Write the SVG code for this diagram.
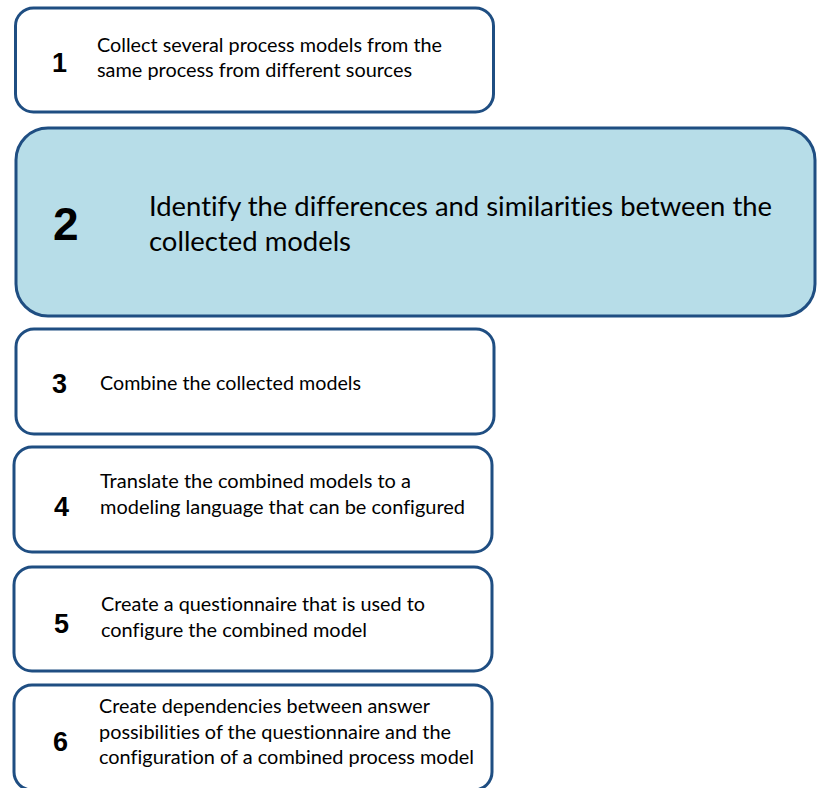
<svg xmlns="http://www.w3.org/2000/svg" width="817" height="788" viewBox="0 0 817 788">
  <style>
    .box { fill: #ffffff; stroke: #1f4e82; stroke-width: 3; }
    .hl { fill: #b7dde8; stroke: #1f4e82; stroke-width: 3; }
    .num { font-family: "Liberation Sans", Arial, sans-serif; font-weight: bold; font-size: 27px; fill: #000; }
    .big { font-size: 46px; }
    .txt, .txt2 { font-family: Lato, "Liberation Sans", sans-serif; fill: #000; font-variant-ligatures: none; }
    .txt { font-size: 19.5px; }
    .txt2 { font-size: 27px; }
  </style>

  <g id="step1">
    <rect class="box" x="15.5" y="8" width="478" height="104" rx="18"/>
    <text class="num" x="52" y="72">1</text>
    <text class="txt" x="97" y="52" textLength="345" lengthAdjust="spacingAndGlyphs">Collect several process models from the</text>
    <text class="txt" x="97" y="77" textLength="315" lengthAdjust="spacingAndGlyphs">same process from different sources</text>
  </g>

  <g id="step2">
    <rect class="hl" x="16" y="128" width="799" height="188" rx="32"/>
    <text class="num big" x="53" y="240">2</text>
    <text class="txt2" x="149" y="216" textLength="623" lengthAdjust="spacingAndGlyphs">Identify the differences and similarities between the</text>
    <text class="txt2" x="149" y="251" textLength="202" lengthAdjust="spacingAndGlyphs">collected models</text>
  </g>

  <g id="step3">
    <rect class="box" x="16" y="329" width="478" height="105" rx="18"/>
    <text class="num" x="52" y="393">3</text>
    <text class="txt" x="100" y="390" textLength="261" lengthAdjust="spacingAndGlyphs">Combine the collected models</text>
  </g>

  <g id="step4">
    <rect class="box" x="14" y="447" width="478" height="105" rx="18"/>
    <text class="num" x="54" y="516">4</text>
    <text class="txt" x="100" y="488" textLength="311" lengthAdjust="spacingAndGlyphs">Translate the combined models to a</text>
    <text class="txt" x="100" y="514" textLength="365" lengthAdjust="spacingAndGlyphs">modeling language that can be configured</text>
  </g>

  <g id="step5">
    <rect class="box" x="14" y="567" width="478" height="104" rx="18"/>
    <text class="num" x="54" y="633">5</text>
    <text class="txt" x="101" y="611" textLength="324" lengthAdjust="spacingAndGlyphs">Create a questionnaire that is used to</text>
    <text class="txt" x="101" y="637" textLength="266" lengthAdjust="spacingAndGlyphs">configure the combined model</text>
  </g>

  <g id="step6">
    <rect class="box" x="14" y="685" width="478" height="105" rx="18"/>
    <text class="num" x="53" y="751">6</text>
    <text class="txt" x="99" y="713" textLength="331" lengthAdjust="spacingAndGlyphs">Create dependencies between answer</text>
    <text class="txt" x="99" y="739" textLength="352" lengthAdjust="spacingAndGlyphs">possibilities of the questionnaire and the</text>
    <text class="txt" x="99" y="764" textLength="375" lengthAdjust="spacingAndGlyphs">configuration of a combined process model</text>
  </g>
</svg>
